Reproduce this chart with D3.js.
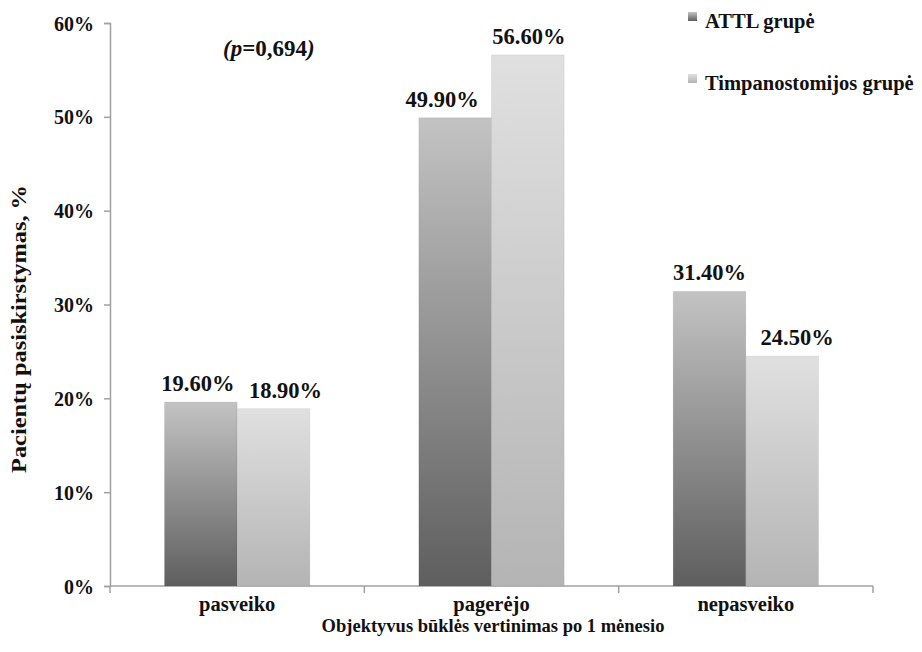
<!DOCTYPE html>
<html><head><meta charset="utf-8">
<script src="https://cdn.jsdelivr.net/npm/d3@7"></script>
<style>body{margin:0;background:#fff}svg{display:block}text{font-family:"Liberation Serif","Times New Roman",serif;font-weight:bold;fill:#111}</style>
</head><body>
<script>
const categories = ["pasveiko", "pagerėjo", "nepasveiko"];
const seriesNames = ["ATTL grupė", "Timpanostomijos grupė"];
const attl = [19.6, 49.9, 31.4];
const timp = [18.9, 56.6, 24.5];
const yTicks = [0, 10, 20, 30, 40, 50, 60];

// layout: manual horizontal nudges of the value labels (px), as in the original
const labelNudge = [[-3, 12], [-13, 1], [0, 15]];

const W = 922, H = 652;
const svg = d3.select("body").append("svg").attr("width", W).attr("height", H);
const defs = svg.append("defs");
const g1 = defs.append("linearGradient").attr("id","gA").attr("x1",0).attr("y1",1).attr("x2",0).attr("y2",0);
g1.append("stop").attr("offset","0%").attr("stop-color","#5e5e5e");
g1.append("stop").attr("offset","100%").attr("stop-color","#c3c3c3");
const g2 = defs.append("linearGradient").attr("id","gT").attr("x1",0).attr("y1",1).attr("x2",0).attr("y2",0);
g2.append("stop").attr("offset","0%").attr("stop-color","#b4b4b4");
g2.append("stop").attr("offset","100%").attr("stop-color","#e0e0e0");
const fills = ["url(#gA)", "url(#gT)"];

const x0 = d3.scaleBand().domain(categories).range([110, 873]).paddingInner(0).paddingOuter(0);
const x1 = d3.scaleBand().domain([0,1]).range([0, x0.bandwidth()]).paddingOuter(0.75).paddingInner(0);
const y = d3.scaleLinear().domain([0, 60]).range([586, 23]);

// Axes
const yAxis = svg.append("g").attr("transform","translate(110,0)")
  .call(d3.axisLeft(y).tickValues(yTicks).tickFormat(d => d + "%").tickSize(6).tickPadding(10));
yAxis.selectAll("text").style("font-size","20px").attr("dy","0.35em");
const xAxis = svg.append("g").attr("transform","translate(0,586)")
  .call(d3.axisBottom(x0).tickSize(0).tickPadding(10));
xAxis.selectAll("text").style("font-size","20.5px");
const bounds = [x0.range()[0]].concat(categories.map(c => x0(c) + x0.bandwidth()));
svg.append("g").selectAll("line").data(bounds).join("line")
  .attr("x1", d=>d).attr("x2", d=>d).attr("y1",586).attr("y2",593)
  .attr("stroke","#a0a0a0").attr("stroke-width",1.5);
svg.selectAll(".domain").attr("stroke","#a0a0a0").attr("stroke-width",1.5);
yAxis.selectAll(".tick line").attr("stroke","#a0a0a0").attr("stroke-width",1.5);
xAxis.selectAll(".domain").attr("d","M110,0H873");

// Bars
const data = categories.map((c,i) => ({c, i, v:[attl[i], timp[i]]}));
const grp = svg.append("g").selectAll("g").data(data).join("g")
  .attr("transform", d => `translate(${x0(d.c)},0)`);
grp.selectAll("rect").data(d => d.v.map((v,k)=>({v,k}))).join("rect")
  .attr("x", d => x1(d.k)).attr("width", x1.bandwidth())
  .attr("y", d => y(d.v)).attr("height", d => y(0) - y(d.v))
  .attr("fill", d => fills[d.k])
  .attr("stroke", "rgba(0,0,0,0.06)").attr("stroke-width", 1);
grp.selectAll("text.val").data(d => d.v.map((v,k)=>({v,k,i:d.i}))).join("text")
  .attr("class","val")
  .attr("x", d => x1(d.k) + x1.bandwidth()/2 + labelNudge[d.i][d.k]).attr("y", d => y(d.v) - 11)
  .attr("text-anchor","middle").style("font-size","22.5px")
  .text(d => d.v.toFixed(2) + "%");

// Axis titles
svg.append("text").attr("transform","translate(26,329) rotate(-90)")
  .attr("text-anchor","middle").style("font-size","20px")
  .attr("textLength", 288).attr("lengthAdjust","spacingAndGlyphs")
  .text("Pacientų pasiskirstymas, %");
svg.append("text").attr("x",493).attr("y",632).attr("text-anchor","middle")
  .style("font-size","18.5px").text("Objektyvus būklės vertinimas po 1 mėnesio");

// p-value
const pt = svg.append("text").attr("x",223).attr("y",56).style("font-size","23px");
pt.append("tspan").style("font-style","italic").text("(p");
pt.append("tspan").text("=0,694");
pt.append("tspan").style("font-style","italic").text(")");

// Legend
const lg = svg.append("g").selectAll("g").data(seriesNames).join("g")
  .attr("transform", (d,i) => `translate(688,${12 + i*62})`);
lg.append("rect").attr("width",9).attr("height",9).attr("fill",(d,i)=>fills[i]);
lg.append("text").attr("x",17).attr("y",16).style("font-size","20.5px").text(d=>d);
</script>
</body></html>
